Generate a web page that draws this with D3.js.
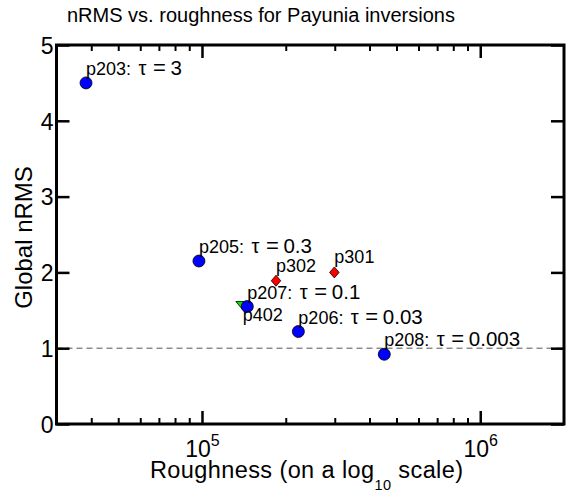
<!DOCTYPE html>
<html>
<head>
<meta charset="utf-8">
<script src="https://cdn.jsdelivr.net/npm/d3@7"></script>
<style>
  html, body { margin: 0; padding: 0; background: #fff; }
  svg { display: block; font-family: "Liberation Sans", Arial, Helvetica, sans-serif; }
</style>
</head>
<body>
<svg id="chart" width="566" height="492"></svg>
<script>
// Inversion runs: roughness vs. global nRMS
const circleNames = ["p203", "p205", "p207", "p206", "p208"];
const circleTau   = ["3", "0.3", "0.1", "0.03", "0.003"];
const circleRough = [3.83e4, 9.75e4, 1.455e5, 2.22e5, 4.52e5];
const circleNrms  = [4.5, 2.15, 1.55, 1.22, 0.92];

const diamondNames = ["p302", "p301"];
const diamondRough = [1.845e5, 2.99e5];
const diamondNrms  = [1.89, 2.0];

const triangleNames = ["p402"];
const triangleRough = [1.40e5];
const triangleNrms  = [1.58];

const yTicks  = [0, 1, 2, 3, 4, 5];
const xMajor  = [1e5, 1e6];
const xMinor  = [4e4, 5e4, 6e4, 7e4, 8e4, 9e4, 2e5, 3e5, 4e5, 5e5, 6e5, 7e5, 8e5, 9e5];
const xDomain = [3e4, 2e6];
const yDomain = [0, 5];
const refLine = 1;

const plotL = 56.5, plotR = 564, plotT = 45, plotB = 424;

const svg = d3.select("#chart");
const x = d3.scaleLog().domain(xDomain).range([plotL, plotR]);
const y = d3.scaleLinear().domain(yDomain).range([plotB, plotT]);

// Title
svg.append("text")
  .attr("x", 67).attr("y", 22)
  .attr("font-size", 20)
  .text("nRMS vs. roughness for Payunia inversions");

// Dashed reference line at nRMS = 1
svg.append("line")
  .attr("x1", plotL).attr("x2", plotR)
  .attr("y1", y(refLine)).attr("y2", y(refLine))
  .attr("stroke", "#555").attr("stroke-width", 1)
  .attr("stroke-dasharray", "6,4");

// Axes with inward ticks on all four sides
function styleAxis(g, w) {
  g.select(".domain").remove();
  g.selectAll(".tick line").attr("stroke", "#000").attr("stroke-width", w);
}
svg.append("g").attr("transform", `translate(0,${plotB})`)
  .call(d3.axisBottom(x).tickValues(xMinor).tickSize(-6).tickFormat(""))
  .call(g => styleAxis(g, 2));
svg.append("g").attr("transform", `translate(0,${plotT})`)
  .call(d3.axisTop(x).tickValues(xMinor).tickSize(-6).tickFormat(""))
  .call(g => styleAxis(g, 2));
const xb = svg.append("g").attr("transform", `translate(0,${plotB})`)
  .call(d3.axisBottom(x).tickValues(xMajor).tickSize(-13).tickFormat(""))
  .call(g => styleAxis(g, 2.5));
svg.append("g").attr("transform", `translate(0,${plotT})`)
  .call(d3.axisTop(x).tickValues(xMajor).tickSize(-13).tickFormat(""))
  .call(g => styleAxis(g, 2.5));
const yl = svg.append("g").attr("transform", `translate(${plotL},0)`)
  .call(d3.axisLeft(y).tickValues(yTicks).tickSize(-13).tickFormat(""))
  .call(g => styleAxis(g, 2.5));
svg.append("g").attr("transform", `translate(${plotR},0)`)
  .call(d3.axisRight(y).tickValues(yTicks).tickSize(-13).tickFormat(""))
  .call(g => styleAxis(g, 2.5));

// Power-of-ten labels on the bottom axis
xb.selectAll(".tick").append("text")
  .attr("fill", "#000").attr("text-anchor", "middle")
  .attr("y", 33).attr("font-size", 23)
  .each(function(d) {
    const t = d3.select(this);
    t.append("tspan").text("10");
    t.append("tspan").attr("font-size", 16).attr("dy", -11).text(Math.round(Math.log10(d)));
  });

// Numeric labels on the left axis
yl.selectAll(".tick").append("text")
  .attr("fill", "#000").attr("text-anchor", "end")
  .attr("x", -3).attr("dy", "0.36em").attr("font-size", 23)
  .text(d => d);

// Plot frame
svg.append("rect")
  .attr("x", plotL).attr("y", plotT)
  .attr("width", plotR - plotL).attr("height", plotB - plotT)
  .attr("fill", "none").attr("stroke", "#000").attr("stroke-width", 3);

// Axis titles
const xt = svg.append("text")
  .attr("x", 150).attr("y", 478).attr("font-size", 23.5)
  .attr("letter-spacing", 0.4);
xt.append("tspan").text("Roughness (on a log");
xt.append("tspan").attr("font-size", 14.5).attr("dy", 12).text("10");
xt.append("tspan").attr("dy", -12).text(" scale)");

svg.append("text")
  .attr("transform", `translate(32,${(plotT + plotB) / 2 + 3}) rotate(-90)`)
  .attr("text-anchor", "middle").attr("font-size", 24)
  .text("Global nRMS");

// Markers
svg.selectAll(".tri").data(triangleNames).join("path")
  .attr("class", "tri")
  .attr("transform", (d, i) => `translate(${x(triangleRough[i])},${y(triangleNrms[i])}) scale(1,0.7) rotate(180)`)
  .attr("d", d3.symbol().type(d3.symbolTriangle).size(80))
  .attr("fill", "#00e400").attr("stroke", "#000").attr("stroke-width", 0.8)
  .attr("vector-effect", "non-scaling-stroke");

svg.selectAll(".dia").data(diamondNames).join("path")
  .attr("class", "dia")
  .attr("transform", (d, i) => `translate(${x(diamondRough[i])},${y(diamondNrms[i])}) scale(0.87,1) rotate(45)`)
  .attr("d", d3.symbol().type(d3.symbolSquare).size(60))
  .attr("fill", "#ff0000").attr("stroke", "#000").attr("stroke-width", 0.8)
  .attr("vector-effect", "non-scaling-stroke");

svg.selectAll(".dot").data(circleNames).join("circle")
  .attr("class", "dot")
  .attr("cx", (d, i) => x(circleRough[i]))
  .attr("cy", (d, i) => y(circleNrms[i]))
  .attr("r", 6)
  .attr("fill", "#0000ff").attr("stroke", "#000").attr("stroke-width", 0.8);

// Point labels: "name: τ = value", spaced like the plotting package's text
const lab = svg.append("g").attr("font-size", 18).attr("fill", "#000");
circleNames.forEach((n, i) => {
  const x0 = x(circleRough[i]);
  const t = lab.append("text")
    .attr("x", x0)
    .attr("y", y(circleNrms[i]) - 8);
  t.append("tspan").text(`${n}:`);
  t.append("tspan").attr("x", x0 + 52.5).attr("font-size", 20).text("\u03c4");
  t.append("tspan").attr("x", x0 + 67).attr("font-size", 22).text("=");
  t.append("tspan").attr("x", x0 + 84.5).attr("font-size", 20.5).text(circleTau[i]);
});
diamondNames.forEach((n, i) => {
  lab.append("text")
    .attr("x", x(diamondRough[i]))
    .attr("y", y(diamondNrms[i]) - 9)
    .text(n);
});
triangleNames.forEach((n, i) => {
  lab.append("text")
    .attr("x", x(triangleRough[i]))
    .attr("y", y(triangleNrms[i]) + 17)
    .text(n);
});
</script>
</body>
</html>
